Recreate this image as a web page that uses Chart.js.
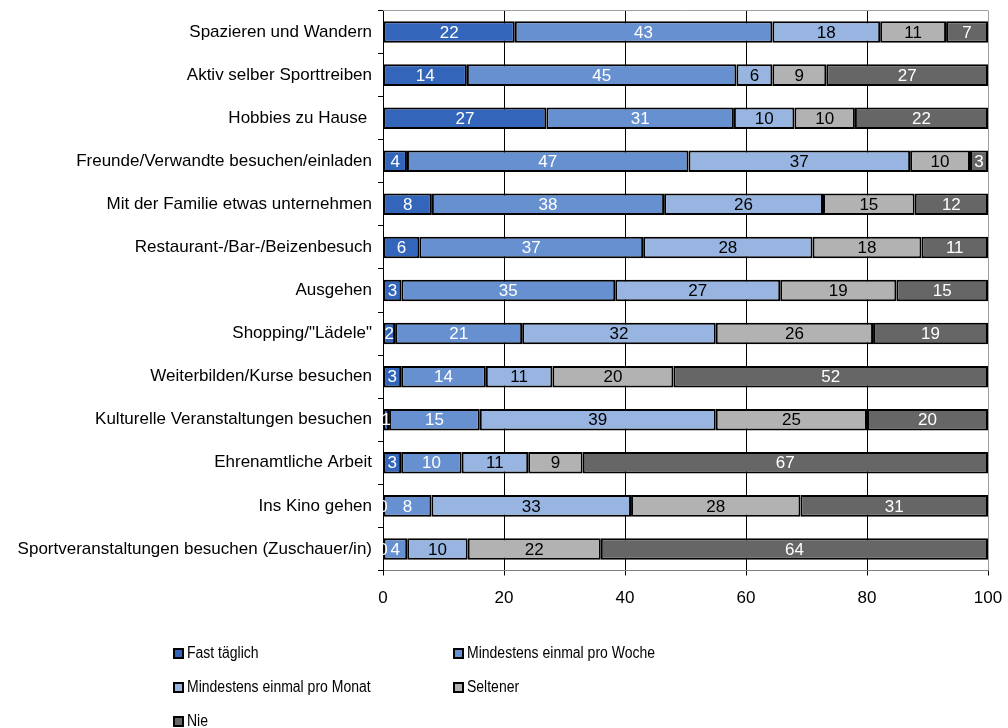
<!DOCTYPE html>
<html>
<head>
<meta charset="utf-8">
<script src="https://cdn.jsdelivr.net/npm/chart.js@4/dist/chart.umd.min.js"></script>
<style>
  html, body { margin: 0; padding: 0; background: #fff; }
  #wrap { position: relative; width: 1008px; height: 728px; }
  #chart { position: absolute; left: 0; top: 0; }
  #legend { position: absolute; left: 0; top: 0; width: 1008px; height: 728px; pointer-events: none;
            font-family: "Liberation Sans", Arial, sans-serif; font-size: 16px; color: #000; }
  .item { position: absolute; display: flex; align-items: center; white-space: nowrap; transform: translateY(-50%); }
  .box { width: 7px; height: 7px; border: 2px solid #000; margin-right: 3px; flex: none; }
  .txt { display: inline-block; transform: scaleX(0.875); transform-origin: left center; }
</style>
</head>
<body>
<div id="wrap">
  <canvas id="chart" width="1008" height="728"></canvas>
  <div id="legend"></div>
</div>
<script>
// Activities (top to bottom)
const categories = [
  'Spazieren und Wandern',
  'Aktiv selber Sporttreiben',
  'Hobbies zu Hause ',
  'Freunde/Verwandte besuchen/einladen',
  'Mit der Familie etwas unternehmen',
  'Restaurant-/Bar-/Beizenbesuch',
  'Ausgehen',
  'Shopping/"Lädele"',
  'Weiterbilden/Kurse besuchen',
  'Kulturelle Veranstaltungen besuchen',
  'Ehrenamtliche Arbeit',
  'Ins Kino gehen',
  'Sportveranstaltungen besuchen (Zuschauer/in)'
];

// Answer shares in percent, one array per frequency
const fastTaeglich   = [22, 14, 27,  4,  8,  6,  3,  2,  3,  1,  3,  0,  0];
const einmalWoche    = [43, 45, 31, 47, 38, 37, 35, 21, 14, 15, 10,  8,  4];
const einmalMonat    = [18,  6, 10, 37, 26, 28, 27, 32, 11, 39, 11, 33, 10];
const seltener       = [11,  9, 10, 10, 15, 18, 19, 26, 20, 25,  9, 28, 22];
const nie            = [ 7, 27, 22,  3, 12, 11, 15, 19, 52, 20, 67, 31, 64];

const seriesNames = ['Fast täglich', 'Mindestens einmal pro Woche', 'Mindestens einmal pro Monat', 'Seltener', 'Nie'];
const xTicks = [0, 20, 40, 60, 80, 100];

const fillColors  = ['#3366bb', '#6690d0', '#97b5e0', '#b2b2b2', '#666666'];
const labelColors = ['#ffffff', '#ffffff', '#000000', '#000000', '#ffffff'];

const FONT = '"Liberation Sans", Arial, sans-serif';
const AXIS_FONT_SIZE = 17;

// 100 % stacked: each segment is its share of the row total
const seriesValues = [fastTaeglich, einmalWoche, einmalMonat, seltener, nie];
const rowTotals = categories.map((_, i) => seriesValues.reduce((s, arr) => s + arr[i], 0));

const datasets = seriesValues.map((vals, k) => ({
  label: seriesNames[k],
  data: vals.map((v, i) => v / rowTotals[i] * 100),
  rawValues: vals,
  backgroundColor: fillColors[k],
  borderColor: '#000000',
  borderWidth: 2,
  borderSkipped: false,
  barPercentage: 0.5,
  categoryPercentage: 1.0,
  labelColor: labelColors[k]
}));

// Value labels centred in each segment, clipped to the plot area
const segmentLabels = {
  id: 'segmentLabels',
  afterDatasetsDraw(chart) {
    const { ctx, chartArea } = chart;
    ctx.save();
    ctx.beginPath();
    ctx.rect(chartArea.left, chartArea.top, chartArea.right - chartArea.left, chartArea.bottom - chartArea.top);
    ctx.clip();
    ctx.font = AXIS_FONT_SIZE + 'px ' + FONT;
    ctx.textAlign = 'center';
    ctx.textBaseline = 'middle';
    chart.data.datasets.forEach((ds, k) => {
      const meta = chart.getDatasetMeta(k);
      meta.data.forEach((bar, i) => {
        const cx = (bar.x + bar.base) / 2;
        ctx.fillStyle = ds.labelColor;
        ctx.fillText(String(ds.rawValues[i]), cx, bar.y + 1);
      });
    });
    ctx.restore();
  }
};

// Light frame along the top of the plot area
const plotFrame = {
  id: 'plotFrame',
  beforeDatasetsDraw(chart) {
    const { ctx, chartArea } = chart;
    ctx.save();
    ctx.strokeStyle = '#a0a0a0';
    ctx.lineWidth = 1;
    ctx.beginPath();
    ctx.moveTo(chartArea.left, chartArea.top);
    ctx.lineTo(chartArea.right, chartArea.top);
    ctx.stroke();
    ctx.restore();
  }
};

new Chart(document.getElementById('chart'), {
  type: 'bar',
  data: { labels: categories, datasets },
  options: {
    indexAxis: 'y',
    responsive: false,
    animation: false,
    devicePixelRatio: 1,
    layout: { padding: { top: 10.5, right: 20, bottom: 117.5, left: 0 } },
    plugins: { legend: { display: false }, tooltip: { enabled: false } },
    scales: {
      x: {
        type: 'linear',
        stacked: true,
        min: 0,
        max: 100,
        afterBuildTicks(scale) { scale.ticks = xTicks.map(v => ({ value: v })); },
        afterFit(scale) { scale.height = 40; scale.paddingLeft = 0; scale.paddingRight = 0; },
        ticks: { color: '#000', font: { family: FONT, size: AXIS_FONT_SIZE }, padding: 13 },
        grid: {
          color: (c) => (c.tick && c.tick.value === 100) ? '#a0a0a0' : '#000000',
          tickColor: '#000000',
          lineWidth: 1,
          tickLength: 5
        },
        border: { display: true, color: '#808080', width: 1 }
      },
      y: {
        type: 'category',
        stacked: true,
        afterFit(scale) { scale.width = 383; scale.paddingTop = 0; scale.paddingBottom = 0; },
        ticks: { color: '#000', font: { family: FONT, size: AXIS_FONT_SIZE }, padding: 6 },
        grid: { offset: true, drawOnChartArea: false, color: '#000', tickLength: 5 },
        border: { display: true, color: '#000', width: 1 }
      }
    }
  },
  plugins: [plotFrame, segmentLabels]
});

// Legend in two columns below the plot
const legendPos = [[173, 653], [453, 653], [173, 687], [453, 687], [173, 721]];
const legendEl = document.getElementById('legend');
seriesNames.forEach((name, k) => {
  const item = document.createElement('div');
  item.className = 'item';
  item.style.left = legendPos[k][0] + 'px';
  item.style.top = legendPos[k][1] + 'px';
  const box = document.createElement('span');
  box.className = 'box';
  box.style.background = fillColors[k];
  const txt = document.createElement('span');
  txt.className = 'txt';
  txt.textContent = name;
  item.appendChild(box);
  item.appendChild(txt);
  legendEl.appendChild(item);
});
</script>
</body>
</html>
